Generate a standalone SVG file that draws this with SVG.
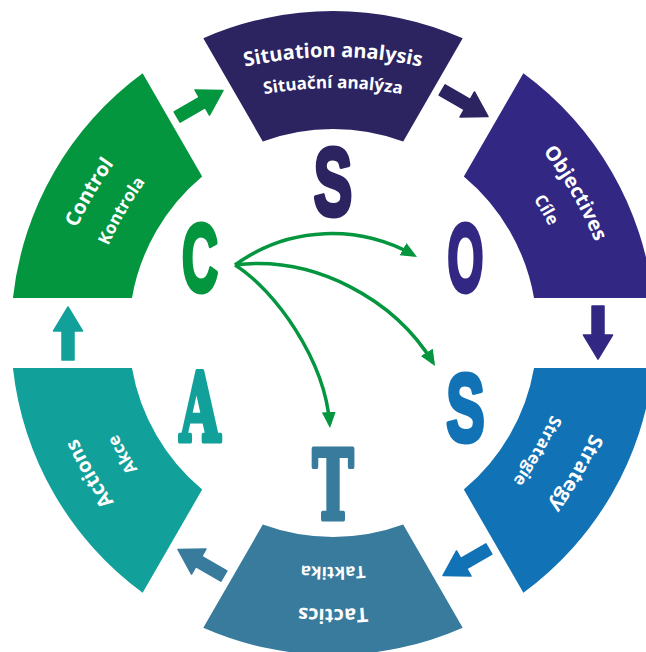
<svg xmlns="http://www.w3.org/2000/svg" xmlns:xlink="http://www.w3.org/1999/xlink" width="646" height="652" viewBox="0 0 646 652">
<style>
.t1{font-family:"Open Sans","Liberation Sans",sans-serif;font-weight:700;font-size:20px;fill:#fff;text-anchor:middle}
.t2{font-family:"Open Sans","Liberation Sans",sans-serif;font-weight:700;font-size:17px;fill:#fff;text-anchor:middle}
.L{font-family:"Liberation Sans",Arial,sans-serif;font-weight:700;font-size:96px;text-anchor:middle;stroke-width:5;stroke-linejoin:round}
.W{font-family:"DejaVu Serif","Liberation Serif",serif;font-weight:700;font-size:95px;text-anchor:middle;stroke-width:5;stroke-linejoin:round}
.cv{fill:none;stroke:#03963E;stroke-width:3.5;marker-end:url(#ah)}
</style>
<defs>
<path id="seg" d="M -129.7,-294.7 A 322 322 0 0 1 129.7,-294.7 L 70.2,-191.6 A 204 204 0 0 0 -70.2,-191.6 Z"/>
<path id="arr" d="M -27,-271 L 2,-271 L 2,-279.5 L 26,-265 L 2,-250.5 L 2,-259 L -27,-259 Z" stroke-linejoin="round" stroke-width="1.5"/>
<path id="po" d="M -160,-242.6 A 400 400 0 0 1 160,-242.6"/>
<path id="pi246" d="M -150,-214.1 A 380 380 0 0 1 150,-214.1"/>
<path id="pi241" d="M -150,-210.1 A 380 380 0 0 1 150,-210.1"/>
<path id="pi232" d="M -150,-201.1 A 380 380 0 0 1 150,-201.1"/>
<path id="pi234" d="M -150,-203.1 A 380 380 0 0 1 150,-203.1"/>
<path id="pi238" d="M -150,-207.1 A 380 380 0 0 1 150,-207.1"/>
<path id="pi240" d="M -150,-209.1 A 380 380 0 0 1 150,-209.1"/>
<marker id="ah" markerUnits="userSpaceOnUse" markerWidth="18" markerHeight="16" refX="12" refY="7" orient="auto">
<path d="M0,0 L16,7 L0,14 Z" fill="#03963E"/>
</marker>
</defs>
<rect width="646" height="652" fill="#fff"/>

<g id="situation">
<use href="#seg" transform="translate(333,333)" fill="#2B2460"/>
<text class="t1" transform="translate(333,333)"><textPath href="#po" startOffset="50%">Situation analysis</textPath></text>
<text class="t2" transform="translate(333,333)"><textPath href="#pi246" startOffset="50%">Situační analýza</textPath></text>
</g>
<g id="objectives">
<use href="#seg" transform="translate(333,333) rotate(60)" fill="#322883"/>
<text class="t1" transform="translate(333,333) rotate(60)"><textPath href="#po" startOffset="50%">Objectives</textPath></text>
<text class="t2" transform="translate(333,333) rotate(60)"><textPath href="#pi241" startOffset="50%">Cíle</textPath></text>
</g>
<g id="strategy">
<use href="#seg" transform="translate(333,333) rotate(120)" fill="#1272B6"/>
<text class="t1" transform="translate(333,333) rotate(120)"><textPath href="#po" startOffset="50%">Strategy</textPath></text>
<text class="t2" transform="translate(333,333) rotate(120)"><textPath href="#pi232" startOffset="50%">Strategie</textPath></text>
</g>
<g id="tactics">
<use href="#seg" transform="translate(333,333) rotate(180)" fill="#387B9C"/>
<text class="t1" transform="translate(333,333) rotate(180)"><textPath href="#po" startOffset="50%">Tactics</textPath></text>
<text class="t2" transform="translate(333,333) rotate(180)"><textPath href="#pi234" startOffset="50%">Taktika</textPath></text>
</g>
<g id="actions">
<use href="#seg" transform="translate(333,333) rotate(240)" fill="#12A19A"/>
<text class="t1" transform="translate(333,333) rotate(240)"><textPath href="#po" startOffset="50%">Actions</textPath></text>
<text class="t2" transform="translate(333,333) rotate(240)"><textPath href="#pi238" startOffset="50%">Akce</textPath></text>
</g>
<g id="control">
<use href="#seg" transform="translate(333,333) rotate(300)" fill="#03963E"/>
<text class="t1" transform="translate(333,333) rotate(300)"><textPath href="#po" startOffset="50%">Control</textPath></text>
<text class="t2" transform="translate(333,333) rotate(300)"><textPath href="#pi240" startOffset="50%">Kontrola</textPath></text>
</g>

<g id="letter-S1"><text class="L" fill="#2B2460" stroke="#2B2460" transform="translate(333,215) scale(0.6,1)">S</text></g>
<g id="letter-O"><text class="L" fill="#322883" stroke="#322883" transform="translate(465.5,291) scale(0.48,1)">O</text></g>
<g id="letter-S2"><text class="L" fill="#1272B6" stroke="#1272B6" transform="translate(465.5,441) scale(0.6,1)">S</text></g>
<g id="letter-T"><text class="W" fill="#387B9C" stroke="#387B9C" transform="translate(333,519) scale(0.58,1)">T</text></g>
<g id="letter-A"><text class="W" fill="#12A19A" stroke="#12A19A" transform="translate(200,441) scale(0.55,1)">A</text></g>
<g id="letter-C"><text class="L" fill="#03963E" stroke="#03963E" transform="translate(200,291) scale(0.52,1)">C</text></g>

<g id="connectors">
<use href="#arr" transform="translate(333,333) rotate(30)" fill="#2B2460" stroke="#2B2460"/>
<use href="#arr" transform="translate(333,333) rotate(90)" fill="#322883" stroke="#322883"/>
<use href="#arr" transform="translate(333,333) rotate(150)" fill="#1272B6" stroke="#1272B6"/>
<use href="#arr" transform="translate(333,333) rotate(210)" fill="#387B9C" stroke="#387B9C"/>
<use href="#arr" transform="translate(333,333) rotate(270)" fill="#12A19A" stroke="#12A19A"/>
<use href="#arr" transform="translate(333,333) rotate(330)" fill="#03963E" stroke="#03963E"/>
<path class="cv" d="M 235,265 C 290,225 360,225 413.5,255"/>
<path class="cv" d="M 235,265 C 315,255 395,300 433,362.6"/>
<path class="cv" d="M 235,265 C 275,290 325,360 329.7,424"/>
</g>
</svg>
